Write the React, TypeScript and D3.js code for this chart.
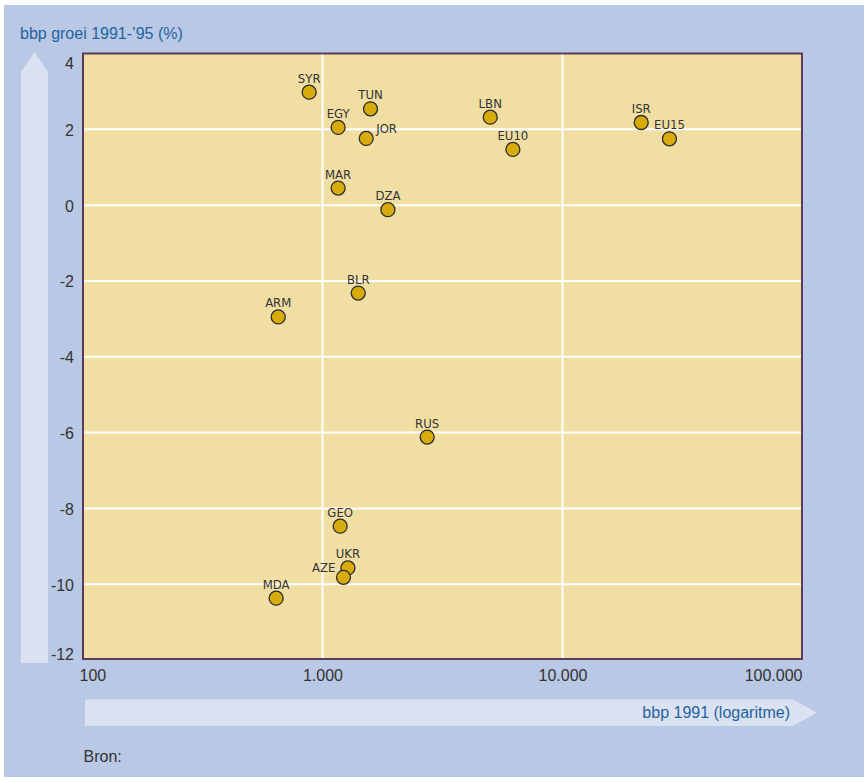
import React from "react";
import * as d3 from "d3";

const codes = ["SYR", "EGY", "TUN", "JOR", "LBN", "EU10", "ISR", "EU15", "MAR", "DZA", "BLR", "ARM", "RUS", "GEO", "UKR", "AZE", "MDA"];
const gdp1991 = [880, 1162, 1585, 1521, 5000, 6213, 21280, 27900, 1162, 1873, 1409, 654, 2730, 1185, 1276, 1223, 641];
const growth = [2.98, 2.05, 2.54, 1.76, 2.32, 1.47, 2.18, 1.75, 0.45, -0.12, -2.32, -2.95, -6.12, -8.47, -9.57, -9.82, -10.37];
const labelSide = ["top", "top", "top", "right", "top", "top", "top", "top", "top", "top", "top", "top", "top", "top", "top", "left", "top"];

const xTicks = [100, 1000, 10000, 100000];
const yTicks = [4, 2, 0, -2, -4, -6, -8, -10, -12];
const xGrid = [1000, 10000];
const yGrid = [2, 0, -2, -4, -6, -8, -10];

const yTitle = "bbp groei 1991-\u201995 (%)";
const xTitle = "bbp 1991 (logaritme)";
const source = "Bron:";

const W = 864, H = 782;
const left = 82.5, right = 802.5, top = 53.5, bottom = 660;

const FONT = "'Liberation Sans', Arial, sans-serif";
const NARROW = "'Liberation Sans Narrow', 'Arial Narrow', 'DejaVu Sans Condensed', sans-serif";

const nl = d3.formatLocale({ decimal: ",", thousands: ".", grouping: [3], currency: ["", ""] });
const fmt = nl.format(",");

export default function App() {
  const x = d3.scaleLog().domain([100, 100000]).range([left, right]);
  const y = d3.scaleLinear().domain([-12, 4]).range([bottom, top]);

  const pts = codes.map((c, i) => ({ c, gx: x(gdp1991[i]), gy: y(growth[i]), side: labelSide[i] }));

  return (
    <svg width={W} height={H} style={{ position: "absolute", left: 0, top: 0 }}>
      <rect x={0} y={0} width={W} height={H} fill="#ffffff" />
      <rect x={4} y={5} width={W - 4} height={772} fill="#b9c8e4" />

      {/* vertical arrow */}
      <path d={`M21,${bottom + 3} L21,72 L34.5,52 L48,72 L48,${bottom + 3} Z`} fill="#dae1f0" />
      {/* horizontal arrow */}
      <path d="M85,699.5 L793,699.5 L817,712.7 L793,726 L85,726 Z" fill="#dae1f0" />

      {/* plot area */}
      <rect x={left} y={top} width={right - left} height={bottom - top} fill="#f0dea2" />
      {xGrid.map((v) => (
        <line key={"xg" + v} x1={x(v)} x2={x(v)} y1={top} y2={bottom} stroke="#ffffff" strokeWidth={2} />
      ))}
      {yGrid.map((v) => (
        <line key={"yg" + v} x1={left} x2={right} y1={y(v)} y2={y(v)} stroke="#ffffff" strokeWidth={2} />
      ))}
      <rect x={83} y={top} width={719} height={bottom - top - 1} fill="none" stroke="#5c3b5a" strokeWidth={2} />

      {/* y ticks */}
      {yTicks.map((v, i) => {
        let by = y(v) + 6.5;
        if (i === 0) by = top + 15;
        if (i === yTicks.length - 1) by = bottom;
        return (
          <text key={"yt" + v} x={74} y={by} textAnchor="end" fontFamily={FONT} fontSize={16} fill="#333333">
            {v < 0 ? "-" + Math.abs(v) : String(v)}
          </text>
        );
      })}
      {/* x ticks */}
      {xTicks.map((v, i) => {
        const anchor = i === 0 ? "start" : i === xTicks.length - 1 ? "end" : "middle";
        const tx = i === 0 ? x(v) - 3 : i === xTicks.length - 1 ? x(v) : x(v) + 0.5;
        return (
          <text key={"xt" + v} x={tx} y={681} textAnchor={anchor} fontFamily={FONT} fontSize={16} fill="#333333">
            {fmt(v)}
          </text>
        );
      })}

      {/* points */}
      {pts.map((p) => (
        <circle key={"c" + p.c} cx={p.gx} cy={p.gy} r={7} fill="#d8ab0c" stroke="#2b2b2b" strokeWidth={1.3} />
      ))}
      {pts.map((p) => {
        let tx = p.gx, ty = p.gy - 9.5, anchor = "middle";
        if (p.side === "right") { tx = p.gx + 10; ty = p.gy - 5; anchor = "start"; }
        if (p.side === "left") { tx = p.gx - 8; ty = p.gy - 5; anchor = "end"; }
        return (
          <text key={"l" + p.c} x={tx} y={ty} textAnchor={anchor} fontFamily={NARROW} fontSize={13} fill="#333333">
            {p.c}
          </text>
        );
      })}

      {/* titles */}
      <text x={20} y={39} fontFamily={FONT} fontSize={16} fill="#1f64a0">{yTitle}</text>
      <text x={790} y={717.5} textAnchor="end" fontFamily={FONT} fontSize={16} fill="#1f64a0">{xTitle}</text>
      <text x={83.5} y={761.5} fontFamily={FONT} fontSize={16} fill="#333333">{source}</text>
    </svg>
  );
}
